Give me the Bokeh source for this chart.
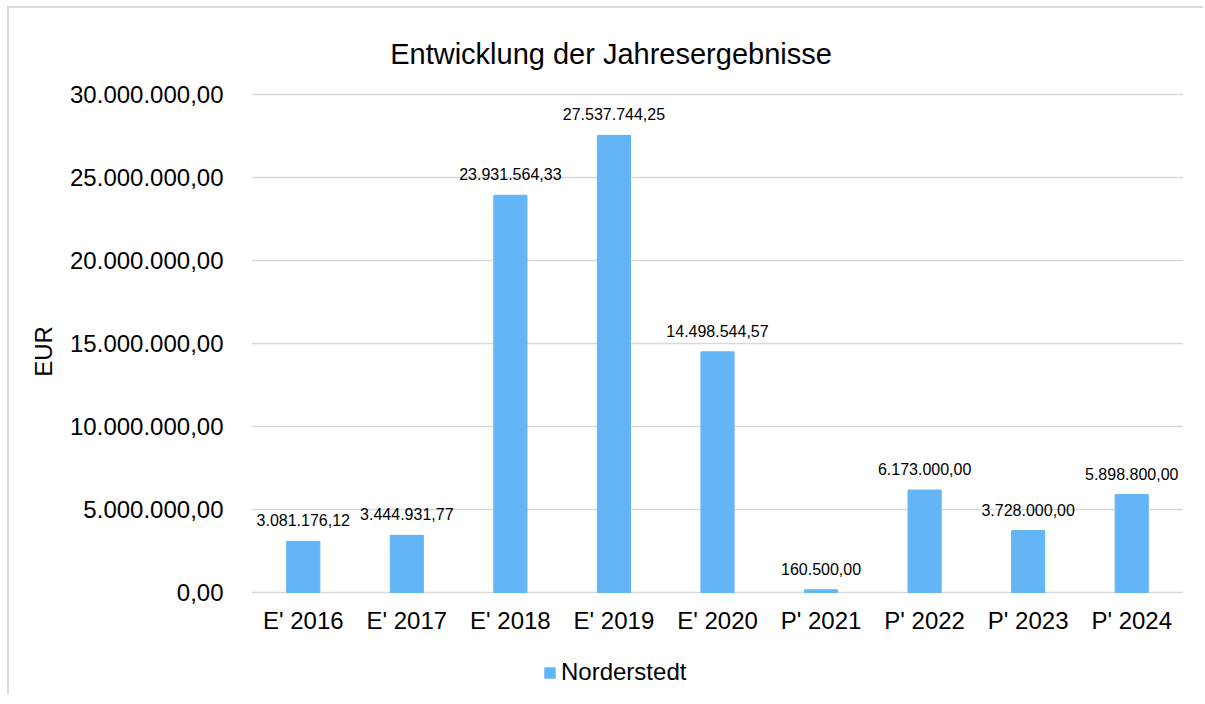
from bokeh.plotting import figure
from bokeh.models import (ColumnDataSource, LabelSet, Label, Legend, LegendItem,
                          FixedTicker, Range1d)
from bokeh.core.properties import value
from bokeh.embed import file_html
from bokeh.resources import INLINE

categories = ["E' 2016", "E' 2017", "E' 2018", "E' 2019", "E' 2020",
              "P' 2021", "P' 2022", "P' 2023", "P' 2024"]
values = [3081176.12, 3444931.77, 23931564.33, 27537744.25, 14498544.57,
          160500.00, 6173000.00, 3728000.00, 5898800.00]
y_ticks = [0, 5000000, 10000000, 15000000, 20000000, 25000000, 30000000]
series_name = "Norderstedt"
title_text = "Entwicklung der Jahresergebnisse"
y_label = "EUR"


def de_fmt(v):
    s = f"{v:,.2f}"
    return s.replace(",", "X").replace(".", ",").replace("X", ".")


FONT = "Liberation Sans"
BAR = "#63b5f5"
GRID = "#d9d9d9"

# layout (pixels): value axis 0..30M spans 498 px; frame extended above/below
PX = 30000000 / 498
Y_END = 30000000 + 86 * PX
Y_START = -102 * PX

src = ColumnDataSource(dict(cat=categories, val=values,
                            lab=[de_fmt(v) for v in values],
                            base=[0] * len(categories)))

p = figure(x_range=categories, y_range=Range1d(Y_START, Y_END),
           frame_width=932, frame_height=686,
           output_backend="svg", toolbar_location=None,
           min_border_left=242, min_border_right=20, min_border_top=0,
           min_border_bottom=0)
p.styles = {"border-top": "2px solid #d9d9d9", "border-left": "2px solid #d9d9d9",
            "margin-top": "6px", "margin-left": "7px"}
p.outline_line_color = None
p.background_fill_color = "white"
p.border_fill_color = "white"

r = p.vbar(x="cat", top="val", width=0.32, source=src, fill_color=BAR,
           line_color=BAR)

p.xgrid.grid_line_color = None
p.ygrid.grid_line_color = GRID
p.ygrid.grid_line_width = 1.3

p.yaxis.ticker = FixedTicker(ticks=y_ticks)
p.yaxis.major_label_overrides = {t: de_fmt(t) for t in y_ticks}
p.yaxis.axis_line_color = None
p.yaxis.major_tick_line_color = None
p.yaxis.minor_tick_line_color = None
p.yaxis.major_label_standoff = 22
p.yaxis.major_label_text_font = FONT
p.yaxis.major_label_text_font_size = "24px"
p.yaxis.major_label_text_color = "black"
p.yaxis.axis_label = y_label
p.yaxis.axis_label_text_font = FONT
p.yaxis.axis_label_text_font_size = "24px"
p.yaxis.axis_label_text_font_style = "normal"
p.yaxis.axis_label_text_color = "black"
p.yaxis.axis_label_standoff = 10

p.xaxis.visible = False

# category labels under the zero line
xlabels = LabelSet(x="cat", y="base", text="cat", source=src, y_offset=-36,
                   text_align="center", text_baseline="alphabetic",
                   text_font=value(FONT), text_font_size=value("24px"),
                   text_color="black")
p.add_layout(xlabels)

labels = LabelSet(x="cat", y="val", text="lab", source=src, y_offset=15,
                  text_align="center", text_baseline="alphabetic",
                  text_font=value(FONT), text_font_size=value("16px"),
                  text_color="black")
p.add_layout(labels)

title = Label(x=3.4716, y=30000000 + 41 * PX, text=title_text,
              text_align="center", text_baseline="alphabetic",
              text_font=FONT, text_font_size="29px",
              text_color="black")
p.add_layout(title)

legend = Legend(items=[LegendItem(label=series_name, renderers=[r])],
                location=(292, 8), orientation="horizontal",
                glyph_width=13, glyph_height=13, label_standoff=5,
                padding=0, margin=0, border_line_color=None,
                background_fill_alpha=0, label_text_font=FONT,
                label_text_font_size="24px", label_text_color="black")
p.add_layout(legend)

open("out.html", "w").write(file_html(p, INLINE))
